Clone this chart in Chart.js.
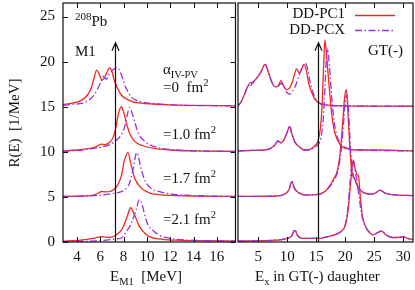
<!DOCTYPE html>
<html>
<head>
<meta charset="utf-8">
<script src="https://cdn.jsdelivr.net/npm/chart.js"></script>
<style>
html, body { margin: 0; padding: 0; background: #fff; }
#wrap { position: relative; width: 415px; height: 290px; overflow: hidden;
        font-family: "Liberation Serif", "DejaVu Serif", serif; color: #111; }
canvas { position: absolute; top: 0; }
.t { position: absolute; white-space: nowrap; font-size: 15px; line-height: 15px; z-index: 2; }
.t sub, .t sup { font-size: 70%; line-height: 0; }
#ytitle { left: -46px; top: 116px; width: 120px; line-height: 14px; text-align: center;
          transform: rotate(-90deg); transform-origin: 60px 7px; }
</style>
</head>
<body>
<div id="wrap">
  <canvas id="m1Chart" width="237" height="290" style="left:0"></canvas>
  <canvas id="gtChart" width="179" height="290" style="left:236px"></canvas>

  <div class="t" id="ytitle">R(E)&nbsp;&nbsp;[1/MeV]</div>
  <div class="t" style="left:75px; top:14px;"><sup style="font-size:11px">208</sup>Pb</div>
  <div class="t" style="left:75px; top:44px;">M1</div>
  <div class="t" style="left:163px; top:62px;">&alpha;<sub>IV-PV</sub></div>
  <div class="t" style="left:163px; top:80px;">=0&nbsp;&nbsp;fm<sup>2</sup></div>
  <div class="t" style="left:163px; top:127px;">=1.0 fm<sup>2</sup></div>
  <div class="t" style="left:163px; top:171px;">=1.7 fm<sup>2</sup></div>
  <div class="t" style="left:163px; top:212px;">=2.1 fm<sup>2</sup></div>
  <div class="t" style="left:110px; top:269px;">E<sub>M1</sub>&nbsp;&nbsp;[MeV]</div>

  <div class="t" style="right:70px; top:6px;">DD-PC1</div>
  <div class="t" style="right:70px; top:22px;">DD-PCX</div>
  <div class="t" style="left:368px; top:43px;">GT(-)</div>
  <div class="t" style="left:255px; top:269px;">E<sub>x</sub> in GT(-) daughter</div>
</div>

<script>
// ========== DATA ========== //
// left panel: M1 strength, curves shifted by 15/10/5/0 for alpha = 0, 1.0, 1.7, 2.1 fm^2
const m1Ticks = [4, 6, 8, 10, 12, 14, 16];
const gtTicks = [5, 10, 15, 20, 25, 30];
const rTicks = [0, 5, 10, 15, 20, 25];

const m1Pc1A0E = [2.8, 3.6, 4.3, 4.9, 5.2, 5.45, 5.68, 5.9, 6.15, 6.4, 6.6, 6.8, 7.0, 7.2, 7.5, 7.8, 8.2, 8.8, 9.5, 10.5, 12, 14, 17.6];
const m1Pc1A0R = [15.25, 15.4, 15.65, 16.3, 17.0, 18.1, 19.05, 18.6, 17.95, 18.3, 18.9, 19.3, 18.9, 17.9, 17.0, 16.3, 15.9, 15.55, 15.4, 15.3, 15.2, 15.15, 15.1];
const m1PcxA0E = [2.8, 3.6, 4.5, 5.0, 5.4, 5.7, 6.0, 6.25, 6.5, 6.8, 7.1, 7.43, 7.7, 7.95, 8.2, 8.65, 9.36, 10.2, 11.5, 13, 17.6];
const m1PcxA0R = [15.15, 15.25, 15.4, 15.7, 16.2, 16.8, 17.6, 18.35, 18.05, 18.7, 19.1, 19.3, 18.9, 18.0, 17.1, 16.1, 15.6, 15.4, 15.25, 15.15, 15.1];

const m1Pc1A1E = [2.8, 4.0, 5.0, 5.6, 6.1, 6.4, 6.8, 7.1, 7.35, 7.55, 7.8, 8.05, 8.3, 8.6, 9.0, 9.6, 10.5, 12, 14, 17.6];
const m1Pc1A1R = [10.1, 10.2, 10.35, 10.55, 10.85, 10.8, 11.05, 11.6, 12.8, 14.2, 15.0, 14.2, 12.9, 11.8, 11.1, 10.7, 10.4, 10.2, 10.1, 10.05];
const m1PcxA1E = [2.8, 4.0, 5.0, 6.0, 6.8, 7.4, 7.8, 8.1, 8.3, 8.5, 8.7, 8.95, 9.3, 9.7, 10.2, 11, 12.5, 14, 17.6];
const m1PcxA1R = [10.05, 10.15, 10.3, 10.5, 10.8, 11.3, 11.9, 12.8, 14.0, 14.9, 14.4, 13.3, 12.0, 11.3, 10.8, 10.45, 10.2, 10.1, 10.05];

const m1Pc1A2E = [2.8, 4.5, 5.4, 5.8, 6.1, 6.5, 6.8, 7.4, 7.8, 8.08, 8.37, 8.6, 8.94, 9.5, 10.2, 11, 12.5, 14, 17.6];
const m1Pc1A2R = [5.05, 5.1, 5.2, 5.4, 5.6, 5.55, 5.6, 6.1, 7.3, 9.1, 9.9, 8.8, 7.1, 6.0, 5.45, 5.25, 5.15, 5.1, 5.05];
const m1PcxA2E = [2.8, 5.0, 6.0, 7.0, 7.6, 8.1, 8.5, 8.8, 9.13, 9.5, 9.8, 10.3, 11, 12, 14, 17.6];
const m1PcxA2R = [5.05, 5.1, 5.2, 5.35, 5.5, 5.8, 6.5, 8.0, 9.9, 8.1, 6.9, 6.0, 5.6, 5.35, 5.15, 5.05];

const m1Pc1A3E = [2.8, 4.3, 5.4, 6.1, 6.8, 7.4, 7.9, 8.3, 8.6, 8.94, 9.36, 9.8, 10.2, 11, 12.5, 14, 17.6];
const m1Pc1A3R = [0.1, 0.2, 0.4, 0.6, 0.5, 0.8, 1.5, 2.8, 3.8, 3.0, 1.7, 1.0, 0.6, 0.35, 0.2, 0.15, 0.1];
const m1PcxA3E = [2.8, 5.0, 6.5, 7.4, 7.8, 8.2, 8.6, 9.08, 9.36, 9.6, 9.85, 10.1, 10.5, 11, 11.6, 13, 17.6];
const m1PcxA3R = [0.05, 0.1, 0.2, 0.35, 0.45, 1.1, 1.9, 3.6, 4.7, 4.1, 2.8, 1.9, 1.3, 0.8, 0.5, 0.25, 0.1];

// right panel: GT(-) strength, same offsets
const gtPc1A0E = [1.5, 2.0, 2.7, 3.3, 3.7, 4.0, 4.5, 5.0, 5.5, 6.0, 6.2, 6.5, 7.0, 7.6, 8.0, 8.5, 8.9, 9.3, 9.9, 10.4, 10.9, 11.3, 11.6, 12.1, 12.5, 12.9, 13.3, 13.7, 14.2, 14.7, 15.5, 16.5, 20, 31.7];
const gtPc1A0R = [15.1, 15.5, 16.5, 17.4, 17.7, 17.6, 18.0, 18.4, 18.9, 19.6, 19.7, 19.3, 18.3, 17.4, 17.2, 17.4, 17.9, 17.4, 16.9, 17.1, 17.8, 18.7, 19.2, 18.7, 19.2, 19.7, 19.0, 17.6, 16.6, 15.9, 15.4, 15.2, 15.1, 15.05];
const gtPcxA0E = [1.5, 2.0, 2.7, 3.3, 3.6, 4.0, 4.5, 5.0, 5.5, 6.0, 6.2, 6.5, 7.0, 7.6, 8.0, 8.5, 8.9, 9.3, 9.9, 10.4, 11.0, 11.6, 12.1, 12.6, 13.1, 13.4, 13.8, 14.3, 14.8, 15.3, 16.0, 17, 20, 31.7];
const gtPcxA0R = [15.1, 15.5, 16.5, 17.4, 17.2, 17.7, 18.0, 18.4, 18.9, 19.6, 19.7, 19.3, 18.3, 17.4, 17.2, 17.3, 17.6, 17.3, 16.6, 16.4, 16.8, 17.6, 18.6, 19.4, 19.8, 19.5, 18.2, 16.9, 16.0, 15.5, 15.3, 15.15, 15.1, 15.05];

const gtPc1A1E = [1.5, 4, 6, 7, 7.8, 8.4, 8.9, 9.5, 10.0, 10.4, 10.8, 11.3, 12.0, 13.0, 14.0, 14.8, 15.3, 15.7, 16.0, 16.25, 16.5, 16.75, 17.0, 17.4, 17.8, 18.3, 19.1, 20, 21, 23, 26, 31.7];
const gtPc1A1R = [10.1, 10.15, 10.2, 10.35, 10.7, 11.2, 11.0, 11.4, 12.2, 12.8, 12.0, 11.1, 10.6, 10.2, 10.3, 10.7, 11.2, 12.5, 15.0, 19.0, 22.4, 21.0, 19.0, 16.0, 13.5, 11.9, 10.8, 10.4, 10.25, 10.2, 10.2, 10.1];
const gtPcxA1E = [1.5, 4, 6, 7, 7.8, 8.4, 8.9, 9.5, 10.0, 10.4, 10.8, 11.3, 12.0, 13.0, 14.0, 14.8, 15.3, 15.8, 16.2, 16.5, 16.75, 16.9, 17.1, 17.4, 17.8, 18.3, 19.1, 20, 21, 23, 31.7];
const gtPcxA1R = [10.1, 10.15, 10.2, 10.35, 10.7, 11.2, 11.0, 11.4, 12.2, 12.9, 12.0, 11.1, 10.6, 10.2, 10.25, 10.5, 10.8, 11.5, 13.5, 17.0, 20.5, 21.5, 20.8, 18.5, 15.0, 12.5, 11.0, 10.5, 10.3, 10.2, 10.1];

const gtPc1A2E = [1.5, 8, 9.5, 10.3, 10.8, 11.2, 12, 13.3, 15.5, 16.5, 17.4, 18.0, 18.6, 19.1, 19.6, 19.9, 20.2, 20.5, 20.8, 21.1, 21.7, 22.3, 23.1, 24.5, 25.3, 26, 26.8, 28, 31.7];
const gtPc1A2R = [5.05, 5.1, 5.3, 5.8, 6.7, 6.0, 5.45, 5.2, 5.3, 5.6, 6.3, 7.0, 7.8, 9.7, 13.5, 16.0, 16.9, 14.0, 10.5, 8.0, 6.9, 6.0, 5.5, 5.3, 5.45, 5.75, 5.45, 5.25, 5.15];
const gtPcxA2E = [1.5, 8, 9.5, 10.3, 10.8, 11.2, 12, 13.3, 15.5, 16.5, 17.4, 18.0, 18.6, 19.2, 19.7, 20.0, 20.3, 20.6, 20.9, 21.2, 21.7, 22.3, 23.1, 24.5, 25.3, 26, 26.8, 28, 31.7];
const gtPcxA2R = [5.05, 5.1, 5.3, 5.8, 6.8, 6.0, 5.45, 5.2, 5.3, 5.6, 6.2, 6.8, 7.6, 9.6, 13.0, 15.5, 16.3, 14.2, 10.6, 8.2, 6.8, 6.0, 5.5, 5.3, 5.45, 5.75, 5.45, 5.25, 5.15];

const gtPc1A3E = [1.5, 8, 10, 10.8, 11.3, 11.8, 12.5, 15.5, 17, 18.6, 19.5, 20.0, 20.5, 21.0, 21.4, 21.7, 22.0, 22.3, 22.6, 23.0, 23.4, 24.0, 24.8, 25.5, 26.3, 27.0, 28.1, 29.0, 30.0, 30.7, 31.7];
const gtPc1A3R = [0.1, 0.2, 0.4, 0.7, 1.3, 0.7, 0.4, 0.4, 0.6, 0.9, 1.3, 1.8, 3.5, 7.0, 9.1, 8.2, 7.5, 7.3, 5.0, 2.8, 1.9, 1.2, 0.8, 1.0, 1.2, 0.8, 0.5, 0.5, 0.6, 0.4, 0.3];
const gtPcxA3E = [1.5, 8, 10, 10.8, 11.3, 11.8, 12.5, 15.5, 17, 18.6, 19.5, 20.0, 20.5, 21.0, 21.3, 21.6, 22.0, 22.4, 22.8, 23.3, 24.0, 24.8, 25.5, 26.3, 27.0, 28.1, 29.0, 30.0, 30.7, 31.7];
const gtPcxA3R = [0.1, 0.2, 0.4, 0.7, 1.4, 0.7, 0.4, 0.4, 0.6, 0.9, 1.3, 1.9, 4.0, 7.8, 9.1, 8.3, 6.8, 5.0, 3.2, 2.0, 1.2, 0.8, 1.0, 1.25, 0.8, 0.5, 0.5, 0.6, 0.4, 0.3];

// experimental centroids (arrows)
const m1ArrowE = 7.25;
const gtArrowE = 15.3;
const arrowTop = 22.1;

// ========== STYLE ========== //
const PC1_COLOR = '#f0281e';
const PCX_COLOR = '#9a2ee6';
const PCX_DASH = [7, 2.5, 1.5, 2.5];
const INK = '#111';
const tickFont = { family: 'Liberation Serif', size: 15 };

function curve(E, R, isPcx) {
    return {
        data: E.map((e, i) => ({ x: e, y: R[i] })),
        borderColor: isPcx ? PCX_COLOR : PC1_COLOR,
        borderWidth: 1.3,
        borderDash: isPcx ? PCX_DASH : [],
        pointRadius: 0,
        cubicInterpolationMode: 'monotone',
        fill: false,
        order: isPcx ? 1 : 2
    };
}

// frame + inward ticks on all sides (gnuplot look)
const framePlugin = {
    id: 'frame',
    afterDatasetsDraw(chart) {
        const { ctx, chartArea: a, scales: { x, y } } = chart;
        const cfg = chart.options.plugins.frame;
        ctx.save();
        ctx.strokeStyle = INK;
        ctx.lineWidth = 1;
        ctx.beginPath();
        x.ticks.forEach(t => {
            const px = Math.round(x.getPixelForValue(t.value)) + 0.5;
            ctx.moveTo(px, a.bottom); ctx.lineTo(px, a.bottom - 5);
            ctx.moveTo(px, a.top); ctx.lineTo(px, a.top + 5);
        });
        if (cfg.yTicks) {
            y.ticks.forEach(t => {
                const py = Math.round(y.getPixelForValue(t.value)) + 0.5;
                ctx.moveTo(a.left, py); ctx.lineTo(a.left + 5, py);
                ctx.moveTo(a.right, py); ctx.lineTo(a.right - 5, py);
            });
        }
        ctx.stroke();
        ctx.lineWidth = 1.2;
        ctx.strokeRect(a.left, a.top, a.right - a.left, a.bottom - a.top);

        // arrow for the experimental value
        const ax = Math.round(x.getPixelForValue(cfg.arrowE)) + 0.5;
        const y0 = y.getPixelForValue(0);
        const y1 = y.getPixelForValue(arrowTop);
        ctx.lineWidth = 1.2;
        ctx.beginPath();
        ctx.moveTo(ax, y0); ctx.lineTo(ax, y1);
        ctx.moveTo(ax - 3.5, y1 + 8); ctx.lineTo(ax, y1); ctx.lineTo(ax + 3.5, y1 + 8);
        ctx.stroke();

        // legend samples
        if (cfg.legend) {
            ctx.lineWidth = 1.3;
            ctx.strokeStyle = PC1_COLOR;
            ctx.beginPath(); ctx.moveTo(a.left + 117, 15.5); ctx.lineTo(a.left + 157, 15.5); ctx.stroke();
            ctx.strokeStyle = PCX_COLOR;
            ctx.setLineDash(PCX_DASH);
            ctx.beginPath(); ctx.moveTo(a.left + 117, 30.5); ctx.lineTo(a.left + 157, 30.5); ctx.stroke();
        }
        ctx.restore();
    }
};

function makeOptions(xMin, xMax, xTicks, yWidth, showY, padRight, frameCfg) {
    return {
        responsive: false,
        animation: false,
        events: [],
        layout: { padding: { top: 3, right: padRight, left: 0, bottom: 0 } },
        plugins: { legend: { display: false }, tooltip: { enabled: false }, frame: frameCfg },
        scales: {
            x: {
                type: 'linear', min: xMin, max: xMax,
                afterBuildTicks: s => { s.ticks = xTicks.map(v => ({ value: v })); },
                afterFit: s => { s.height = 48; s.paddingLeft = 0; s.paddingRight = 0; },
                grid: { display: false, drawTicks: false },
                border: { display: false },
                ticks: { font: tickFont, color: INK, padding: 6, maxRotation: 0, autoSkip: false }
            },
            y: {
                type: 'linear', min: 0, max: 26.5,
                afterBuildTicks: s => { s.ticks = rTicks.map(v => ({ value: v })); },
                afterFit: s => { s.width = yWidth; s.paddingTop = 0; s.paddingBottom = 0; },
                grid: { display: false, drawTicks: false },
                border: { display: false },
                ticks: { display: showY, font: tickFont, color: INK, padding: 8 }
            }
        }
    };
}

new Chart(document.getElementById('m1Chart'), {
    type: 'line',
    data: {
        datasets: [
            curve(m1Pc1A0E, m1Pc1A0R, false), curve(m1PcxA0E, m1PcxA0R, true),
            curve(m1Pc1A1E, m1Pc1A1R, false), curve(m1PcxA1E, m1PcxA1R, true),
            curve(m1Pc1A2E, m1Pc1A2R, false), curve(m1PcxA2E, m1PcxA2R, true),
            curve(m1Pc1A3E, m1Pc1A3R, false), curve(m1PcxA3E, m1PcxA3R, true)
        ]
    },
    options: makeOptions(2.8, 17.6, m1Ticks, 63, true, 1.5, { yTicks: true, arrowE: m1ArrowE, legend: false }),
    plugins: [framePlugin]
});

new Chart(document.getElementById('gtChart'), {
    type: 'line',
    data: {
        datasets: [
            curve(gtPc1A0E, gtPc1A0R, false), curve(gtPcxA0E, gtPcxA0R, true),
            curve(gtPc1A1E, gtPc1A1R, false), curve(gtPcxA1E, gtPcxA1R, true),
            curve(gtPc1A2E, gtPc1A2R, false), curve(gtPcxA2E, gtPcxA2R, true),
            curve(gtPc1A3E, gtPc1A3R, false), curve(gtPcxA3E, gtPcxA3R, true)
        ]
    },
    options: makeOptions(1.5, 31.7, gtTicks, 2, false, 2, { yTicks: false, arrowE: gtArrowE, legend: true }),
    plugins: [framePlugin]
});
</script>
</body>
</html>
